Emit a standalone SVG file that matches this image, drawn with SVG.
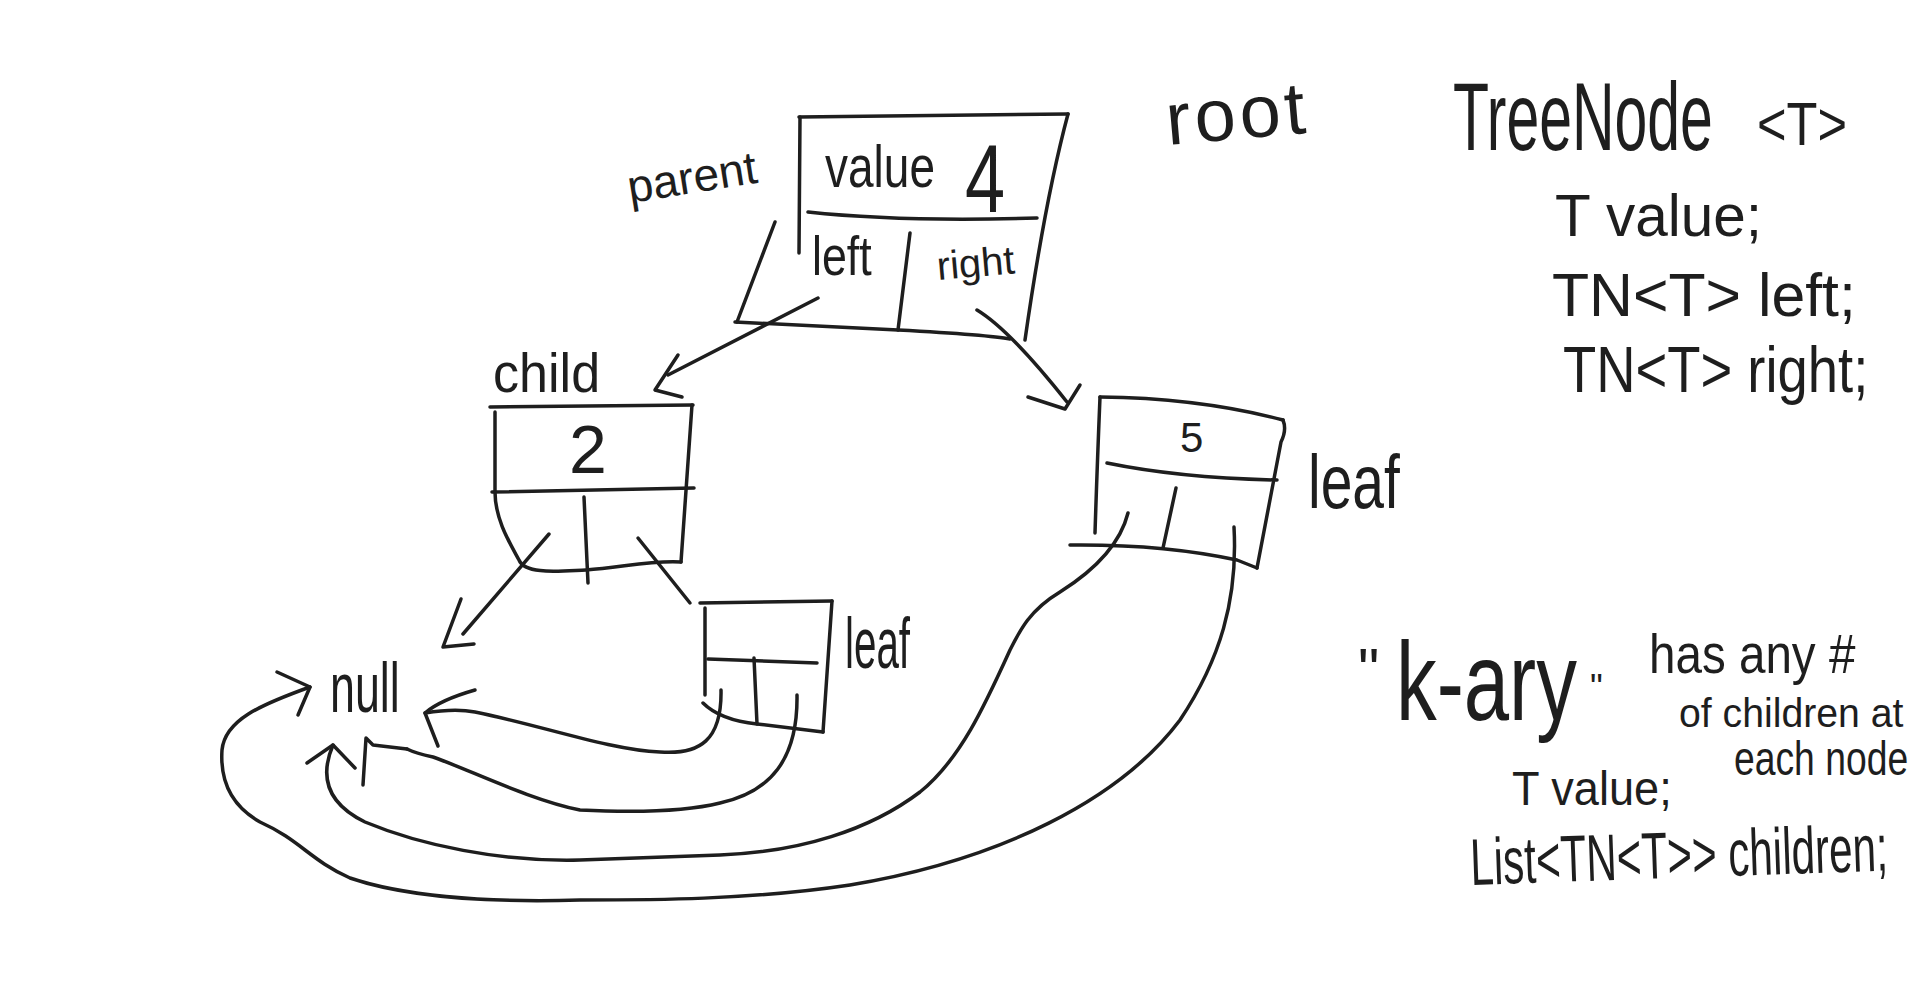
<svg xmlns="http://www.w3.org/2000/svg" width="1920" height="997" viewBox="0 0 1920 997">
<style>
.s{fill:none;stroke:#1e1e1e;stroke-width:3.5;stroke-linecap:round;stroke-linejoin:round}
text{font-family:"Liberation Sans",Arial,sans-serif;fill:#1e1e1e}
</style>
<rect width="1920" height="997" fill="#ffffff"/>
<g id="root-node">
<path class="s" d="M799,117 L1068,114"/>
<path class="s" d="M1068,114 Q1045,200 1025,340"/>
<path class="s" d="M800,117 L799,253"/>
<path class="s" d="M808,212 Q900,222 1037,218"/>
<path class="s" d="M775,222 L737,322"/>
<path class="s" d="M735,322 L898,330 Q990,335 1010,339"/>
<path class="s" d="M910,233 L898,330"/>
<text font-size="60" transform="translate(825,187) scale(0.767,1)">value</text>
<text font-size="96" transform="translate(965,212) scale(0.75,1)">4</text>
<text font-size="56" transform="translate(812,275) scale(0.8,1)">left</text>
<text font-size="40" transform="translate(938,280) rotate(-5)">right</text>
<text font-size="46" transform="translate(630,203) rotate(-9)">parent</text>
<text font-size="74" letter-spacing="4" transform="translate(1168,145) rotate(-5)">root</text>
</g>
<g id="child-node">
<path class="s" d="M490,407 L693,405"/>
<path class="s" d="M692,405 L681,562"/>
<path class="s" d="M495,412 L495,492"/>
<path class="s" d="M492,492 L694,488"/>
<path class="s" d="M495,492 C495,520 511,545 519,560 C525,575 560,571 586,570 C620,568 650,560 681,562"/>
<path class="s" d="M584,497 L588,583"/>
<text font-size="68" transform="translate(569,473)">2</text>
<text font-size="56" transform="translate(493,392) scale(0.93,1)">child</text>
</g>
<g id="node-5">
<path class="s" d="M1100,397 Q1200,398 1283,420"/>
<path class="s" d="M1283,420 Q1287,430 1281,442 L1257,568"/>
<path class="s" d="M1100,397 Q1097,470 1095,533"/>
<path class="s" d="M1107,463 Q1180,478 1277,480"/>
<path class="s" d="M1070,545 Q1163,544 1237,560 L1257,568"/>
<path class="s" d="M1176,488 L1163,548"/>
<text font-size="42" transform="translate(1180,452)">5</text>
<text font-size="76" transform="translate(1308,508) scale(0.75,1)">leaf</text>
</g>
<g id="leaf-node">
<path class="s" d="M700,603 L832,601"/>
<path class="s" d="M832,601 L823,732"/>
<path class="s" d="M705,608 L705,695"/>
<path class="s" d="M708,659 L817,663"/>
<path class="s" d="M754,658 L757,724"/>
<path class="s" d="M703,703 Q720,720 757,724 L823,732"/>
<text font-size="72" transform="translate(845,668) scale(0.56,1)">leaf</text>
</g>
<g id="null-node">
<text font-size="70" transform="translate(330,712) scale(0.64,1)">null</text>
</g>
<g id="connectors">
<path class="s" d="M818,298 L668,375"/>
<path class="s" d="M678,355 L655,390 L682,397"/>
<path class="s" d="M977,310 Q1010,330 1067,402"/>
<path class="s" d="M1028,397 L1065,409 L1080,385"/>
<path class="s" d="M549,534 L463,634"/>
<path class="s" d="M461,599 L443,647 L474,644"/>
<path class="s" d="M638,538 L690,603"/>
<path class="s" d="M721,690 C722,740 700,755 660,752 C610,750 540,725 475,712 Q455,708 425,713"/>
<path class="s" d="M475,690 Q440,700 425,713 L438,746"/>
<path class="s" d="M797,695 C798,760 770,792 720,803 C680,813 620,812 580,810 C530,800 470,770 433,757 Q415,753 407,749"/>
<path class="s" d="M363,785 L366,738 L373,745 L407,749"/>
<path class="s" d="M1128,513 C1120,545 1095,570 1060,592 C1030,610 1020,630 1010,650 C985,705 960,760 920,792 C870,830 800,852 720,855 L580,860 C500,862 420,845 365,822 C330,805 318,780 333,745"/>
<path class="s" d="M307,763 L333,745 L355,768"/>
<path class="s" d="M1234,527 C1238,600 1220,660 1180,720 C1120,800 1000,860 850,885 C750,900 650,900 580,900 C480,903 400,895 350,878 C310,860 300,840 260,822 C230,805 220,780 222,750 C225,720 260,705 310,687"/>
<path class="s" d="M277,672 L310,687 L298,715"/>
</g>
<g id="treenode-notes">
<text font-size="96" transform="translate(1453,150) scale(0.614,1)">TreeNode</text>
<text font-size="62" transform="translate(1757,145) scale(0.816,1)">&lt;T&gt;</text>
<text font-size="60" transform="translate(1555,236) scale(0.975,1)">T value;</text>
<text font-size="62" transform="translate(1552,316) scale(0.98,1)">TN&lt;T&gt; left;</text>
<text font-size="64" transform="translate(1563,392) scale(0.85,1)">TN&lt;T&gt; right;</text>
</g>
<g id="kary-notes">
<text font-size="60" transform="translate(1358,690)">"</text>
<text font-size="112" transform="translate(1396,720) scale(0.727,1)">k-ary</text>
<text font-size="36" transform="translate(1590,700)">"</text>
<text font-size="56" transform="translate(1649,673) scale(0.85,1)">has any #</text>
<text font-size="40" transform="translate(1679,727) scale(0.98,1)">of children at</text>
<text font-size="48" transform="translate(1734,775) scale(0.777,1)">each node</text>
<text font-size="48" transform="translate(1512,805) scale(0.94,1)">T value;</text>
<text font-size="66" transform="translate(1471,885) rotate(-2) scale(0.64,1)">List&lt;TN&lt;T&gt;&gt; children;</text>
</g>
</svg>
